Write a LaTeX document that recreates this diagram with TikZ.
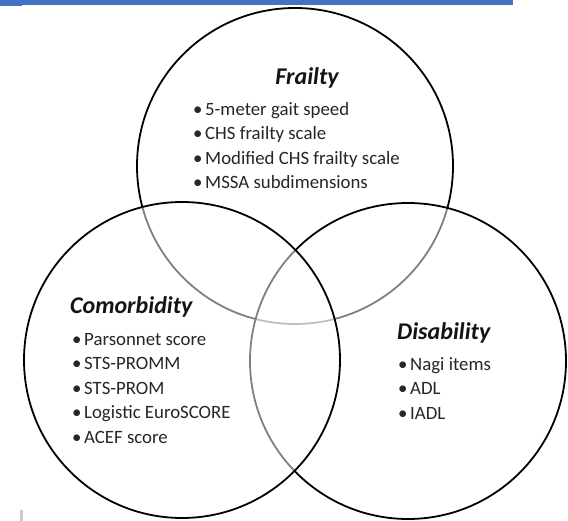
\documentclass[tikz,border=0pt]{standalone}
\usepackage{fontspec}
\setmainfont{Carlito}
\newcommand\vbul{\makebox[12pt][l]{•}}
\definecolor{barblue}{RGB}{68,114,196}
\begin{document}
\begin{tikzpicture}[x=1pt,y=-1pt,
  venn/.style={circle, minimum size=316pt, inner sep=0pt, draw=black, line width=1.8pt, fill=white, fill opacity=0.5, text opacity=1},
  ttl/.style={font=\fontsize{24}{26}\selectfont\bfseries\itshape, text=black!92, inner sep=0pt},
  itm/.style={font=\fontsize{18.8}{22}\selectfont, text=black!85, anchor=mid west, inner sep=0pt}]
\useasboundingbox (0,0) rectangle (568,521);
\fill[white] (0,0) rectangle (568,521);
% top bar and small mark
\fill[barblue] (0,0) rectangle (513,5.3);
\fill[barblue] (0,0) rectangle (22,6.2);
\fill[black!20] (20,510) rectangle (23,521);
% circles: top, right, left
\node[venn] (cf) at (295,166) {};
\node[venn] (cd) at (408,361) {};
\node[venn] (cc) at (182,360) {};
% Frailty
\node[ttl] (tf) at (307,78) {Frailty};
\node[itm] (f1) at (193,113) {\vbul 5-meter gait speed};
\node[itm] (f2) at (193,137.5) {\vbul CHS frailty scale};
\node[itm] (f3) at (193,162) {\vbul Modified CHS frailty scale};
\node[itm] (f4) at (193,186.5) {\vbul MSSA subdimensions};
% Comorbidity
\node[ttl, anchor=west] (tc) at (70,307) {Comorbidity};
\node[itm] (c1) at (72,343) {\vbul Parsonnet score};
\node[itm] (c2) at (72,367.5) {\vbul STS-PROMM};
\node[itm] (c3) at (72,392) {\vbul STS-PROM};
\node[itm] (c4) at (72,416.5) {\vbul Logistic EuroSCORE};
\node[itm] (c5) at (72,441) {\vbul ACEF score};
% Disability
\node[ttl, anchor=west] (td) at (397,333) {Disability};
\node[itm] (d1) at (398,368) {\vbul Nagi items};
\node[itm] (d2) at (398,392.5) {\vbul ADL};
\node[itm] (d3) at (398,417) {\vbul IADL};
\end{tikzpicture}
\end{document}
